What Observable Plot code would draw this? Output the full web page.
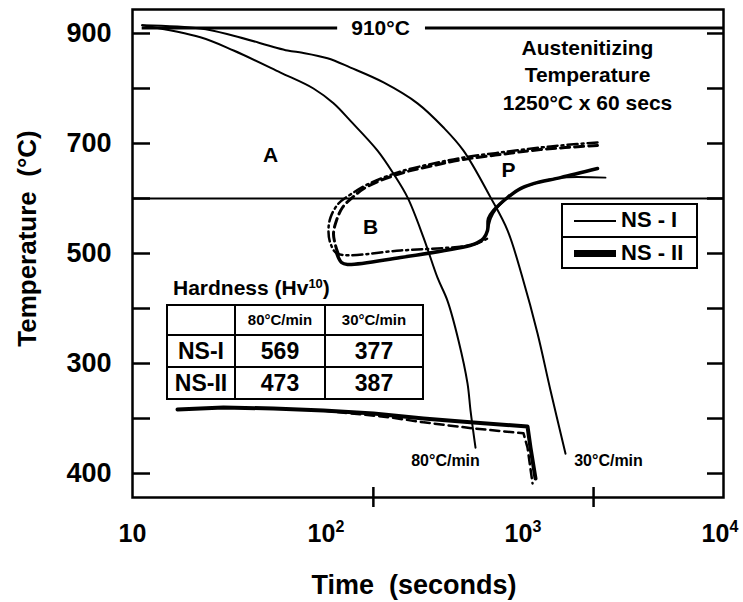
<!DOCTYPE html>
<html><head><meta charset="utf-8">
<script src="https://cdn.jsdelivr.net/npm/d3@7"></script>
<script src="https://cdn.jsdelivr.net/npm/@observablehq/plot@0.6"></script>
<style>
body{margin:0;background:#fff;}
#wrap{position:relative;width:743px;height:602px;font-family:"Liberation Sans",Arial,sans-serif;font-weight:bold;color:#000;background:#fff;}
#legend{position:absolute;left:561px;top:203px;width:133px;height:62px;border:2px solid #000;background:#fff;}
#legend .row{position:relative;height:31px;}
#legend .row + .row{border-top:2px solid #000;height:31px;}
#legend .ln{position:absolute;left:11px;width:42px;background:#000;}
#legend .tx{position:absolute;left:58px;top:3px;font-size:22px;line-height:24px;}
#hard{position:absolute;left:173px;top:276px;font-size:21px;white-space:nowrap;}
#hard sup{font-size:13px;vertical-align:7px;line-height:0;}
#tbl{position:absolute;left:166px;top:304px;border-collapse:collapse;background:#fff;}
#tbl td{border:2px solid #000;padding:0;text-align:center;font-size:23px;line-height:26px;}
#tbl td.h{font-size:15px;}
</style></head><body><div id="wrap"></div>
<script>
// Axis values and labels
const yTickValues = [900, 700, 500, 300, 100];
const yTickLabels = ["900", "700", "500", "300", "400"];
const yTickMarks = [100, 200, 300, 400, 500, 600, 700, 800, 900];
const xLabelValues = [10, 100, 1000, 10000];
const xLabelExps = ["", "2", "3", "4"];
const xTickMarks = [167, 2190];

// Cooling curves
const cool80Time = [11.2, 22.1, 32.6, 56.4, 82.9, 104.8, 127.8, 175.3, 211.3, 248.9, 300.1, 353.4, 397.2, 451.6, 501.8, 519.7, 551];
const cool80Temp = [915, 893, 869, 829, 800, 773, 741, 687, 645, 602, 529, 456, 414, 342, 264, 215, 147];
const cool30Time = [11.2, 22.1, 32.6, 61.2, 72.8, 97.7, 127.8, 188, 279.7, 379, 478.8, 656.7, 801, 954.4, 1137, 1324, 1578];
const cool30Temp = [915, 909, 896, 869, 865, 855, 838, 811, 773, 729, 687, 602, 542, 456, 355, 251, 136];

// Transformation start curves
const dashDotTime = [2293, 1488, 1178, 738, 478.8, 337.3, 229.3, 155.9, 127.8, 111.1, 101.2, 98.8, 101.2, 109.8, 229.3, 538.3, 634];
const dashDotTemp = [701.8, 696.4, 692.7, 683.6, 674.5, 663.6, 649, 625.5, 607.3, 590.9, 565.5, 541.8, 518.2, 500, 505.5, 516.4, 527.3];
const dashedTime = [2293, 1178, 738, 478.8, 337.3, 229.3, 155.9, 130.9, 116.4, 108.5, 104.8, 107.3, 111.1];
const dashedTemp = [696.4, 689, 680, 671, 660, 645.5, 622, 602, 583.6, 560, 536.4, 514.5, 498.2];
const ns2Time = [108.5, 115.1, 123.4, 229.3, 411.5, 538.3, 605, 634, 641.5, 680, 801, 932, 1085, 1488, 2293];
const ns2Temp = [501.8, 483.6, 480, 492.7, 507.3, 516.4, 527.3, 541.8, 563.6, 578, 601.8, 618, 627, 638, 654.5];
const ns1Time = [411.5, 538.3, 605, 634, 660, 700, 820, 960, 1200, 1488, 2518];
const ns1Temp = [507.3, 516.4, 527.3, 541.8, 563.6, 580, 603.6, 620, 631, 638, 638];

// Martensite start lines
const msThickTime = [16.92, 28.96, 51.97, 93.2, 167.3, 300.1, 538.3, 1012, 1048, 1111];
const msThickTemp = [216.4, 220, 218.2, 214.5, 209, 200, 192.7, 185.5, 147, 91];
const msDashTime = [93.2, 203.9, 300.1, 538.3, 965.6, 1012, 1073];
const msDashTemp = [214.5, 202, 193, 182, 173, 147, 82];

const pts = (ts, Ts) => ts.map((t, i) => ({t, T: Ts[i]}));
const expLabels = xLabelValues.map((v, i) => ({v, e: xLabelExps[i]}));

const font = "Liberation Sans, Arial, sans-serif";
const plot = Plot.plot({
  width: 743, height: 602,
  marginTop: 9, marginLeft: 132, marginRight: 20, marginBottom: 105,
  x: {type: "log", domain: [10, 10000], axis: null},
  y: {domain: [56.4, 943.6], axis: null},
  style: {fontFamily: font, fontWeight: "bold", background: "white", color: "black", overflow: "visible"},
  marks: [
    Plot.ruleY([600], {stroke: "black", strokeWidth: 2}),
    Plot.ruleY([910], {x1: 11.2, x2: 110, stroke: "black", strokeWidth: 3}),
    Plot.ruleY([910], {x1: 307, x2: 10000, stroke: "black", strokeWidth: 3}),
    Plot.tickY(yTickMarks, {y: d => d, insetRight: 591 - 18, stroke: "black", strokeWidth: 2.5}),
    Plot.tickY(yTickMarks, {y: d => d, insetLeft: 591 - 16, stroke: "black", strokeWidth: 2.5}),
    Plot.tickX(xTickMarks, {x: d => d, insetTop: 478, insetBottom: -10, stroke: "black", strokeWidth: 2.5}),
    Plot.frame({stroke: "black", strokeWidth: 2.5}),
    // curves
    Plot.line(pts(cool80Time, cool80Temp), {x: "t", y: "T", curve: "catmull-rom", stroke: "black", strokeWidth: 2}),
    Plot.line(pts(cool30Time, cool30Temp), {x: "t", y: "T", curve: "catmull-rom", stroke: "black", strokeWidth: 2}),
    Plot.line(pts(dashDotTime, dashDotTemp), {x: "t", y: "T", curve: "catmull-rom", stroke: "black", strokeWidth: 2.5, strokeDasharray: "10,4,2,4"}),
    Plot.line(pts(dashedTime, dashedTemp), {x: "t", y: "T", curve: "catmull-rom", stroke: "black", strokeWidth: 3, strokeDasharray: "9,5"}),
    Plot.line(pts(ns1Time, ns1Temp), {x: "t", y: "T", curve: "catmull-rom", stroke: "black", strokeWidth: 1.8}),
    Plot.line(pts(ns2Time, ns2Temp), {x: "t", y: "T", curve: "catmull-rom", stroke: "black", strokeWidth: 3.5}),
    Plot.line(pts(msDashTime, msDashTemp), {x: "t", y: "T", stroke: "black", strokeWidth: 2.5, strokeDasharray: "9,5"}),
    Plot.line(pts(msThickTime, msThickTemp), {x: "t", y: "T", stroke: "black", strokeWidth: 4}),
    // y axis labels
    Plot.text(yTickValues, {x: 10, y: d => d, text: (d, i) => yTickLabels[i], textAnchor: "end", dx: -21, fontSize: 27}),
    // x axis labels
    Plot.text(expLabels.filter(d => !d.e), {x: "v", frameAnchor: "bottom", lineAnchor: "middle", text: () => "10", dy: 36, fontSize: 25, textAnchor: "middle"}),
    Plot.text(expLabels.filter(d => d.e), {x: "v", frameAnchor: "bottom", lineAnchor: "middle", text: () => "10", dx: -8, dy: 36, fontSize: 25, textAnchor: "middle"}),
    Plot.text(expLabels.filter(d => d.e), {x: "v", frameAnchor: "bottom", lineAnchor: "middle", text: "e", dx: 6, dy: 29, fontSize: 16, textAnchor: "start"}),
    // titles
    Plot.text(["Time  (seconds)"], {frameAnchor: "bottom", lineAnchor: "middle", text: d => d, dx: -14, dy: 88, fontSize: 27}),
    Plot.text(["Temperature  (°C)"], {frameAnchor: "left", textAnchor: "middle", lineAnchor: "middle", text: d => d, rotate: -90, dx: -105, dy: -15, fontSize: 26}),
    // annotations
    Plot.text(["910°C"], {x: 181.5, y: 910, text: d => d, fontSize: 21}),
    Plot.text(["Austenitizing\nTemperature\n1250°C x 60 secs"], {x: 2040, y: 827, text: d => d, fontSize: 21, lineHeight: 1.3}),
    Plot.text(["A"], {x: 50.2, y: 678, text: d => d, fontSize: 21}),
    Plot.text(["B"], {x: 161.5, y: 547, text: d => d, fontSize: 21}),
    Plot.text(["P"], {x: 810, y: 651, text: d => d, fontSize: 21}),
    Plot.text(["80°C/min"], {x: 388, y: 123.6, text: d => d, fontSize: 16}),
    Plot.text(["30°C/min"], {x: 2608, y: 123.6, text: d => d, fontSize: 16})
  ]
});
const wrap = document.getElementById("wrap");
wrap.appendChild(plot);
wrap.insertAdjacentHTML("beforeend", `
<div id="hard">Hardness (Hv<sup>10</sup>)</div>
<table id="tbl">
 <tr style="height:30px"><td style="width:66px"></td><td class="h" style="width:88px">80°C/min</td><td class="h" style="width:96px">30°C/min</td></tr>
 <tr style="height:32px"><td>NS-I</td><td>569</td><td>377</td></tr>
 <tr style="height:32px"><td>NS-II</td><td>473</td><td>387</td></tr>
</table>
<div id="legend">
 <div class="row"><div class="ln" style="top:15px;height:2px"></div><div class="tx">NS - I</div></div>
 <div class="row"><div class="ln" style="top:12px;height:7px"></div><div class="tx">NS - II</div></div>
</div>`);
</script></body></html>
